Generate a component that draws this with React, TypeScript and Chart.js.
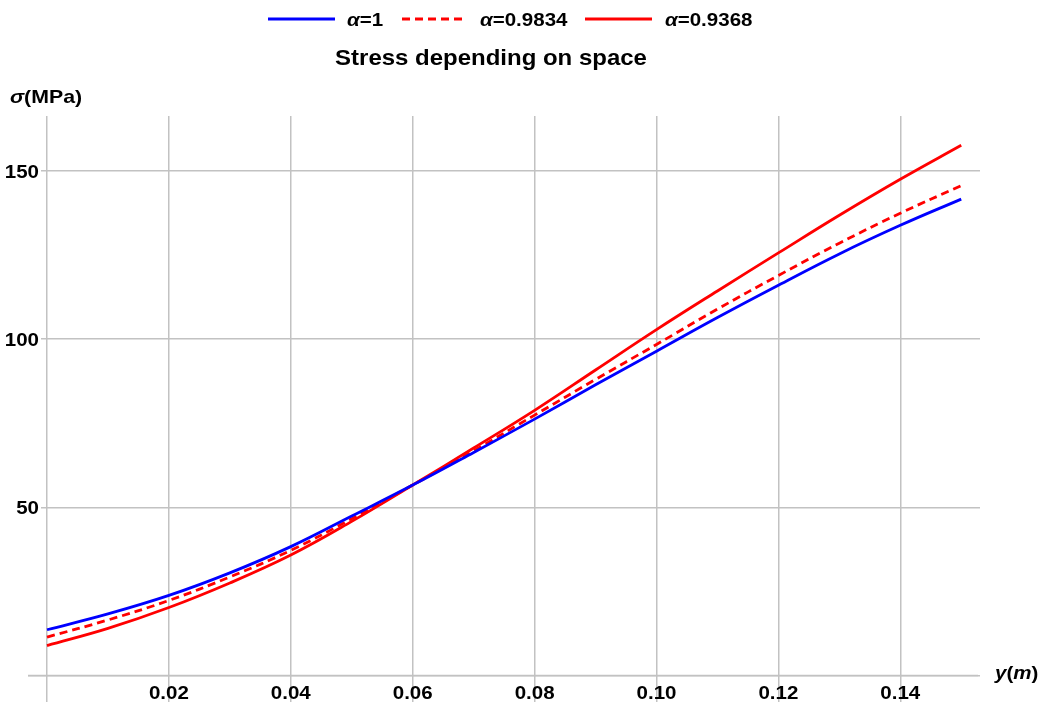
import { useEffect, useRef } from "react";
import { Chart, registerables } from "chart.js";

Chart.register(...registerables);

// ---- data ----
const X_VALUES = [0, 0.01, 0.02, 0.03, 0.04, 0.05, 0.06, 0.07, 0.08, 0.09, 0.1, 0.11, 0.12, 0.13, 0.14, 0.15];
const ALPHA_1 = [13.6, 18.3, 23.8, 30.5, 38.3, 47.4, 56.6, 66.3, 76.2, 86.4, 96.4, 106.4, 116.0, 125.3, 133.8, 141.6];
const ALPHA_09834 = [11.4, 16.5, 22.3, 29.3, 37.2, 46.6, 56.6, 66.8, 77.4, 88.0, 98.4, 108.9, 118.9, 128.5, 137.4, 145.6];
const ALPHA_09368 = [8.9, 14.0, 20.2, 27.5, 35.8, 45.8, 56.6, 67.6, 78.8, 90.8, 102.8, 114.3, 125.6, 136.8, 147.5, 157.6];
const SERIES_ALPHAS = ["1", "0.9834", "0.9368"];
const X_TICKS = [0.02, 0.04, 0.06, 0.08, 0.1, 0.12, 0.14];
const X_TICK_LABELS = ["0.02", "0.04", "0.06", "0.08", "0.10", "0.12", "0.14"];
const Y_TICKS = [50, 100, 150];
const Y_TICK_LABELS = ["50", "100", "150"];
const TITLE = "Stress depending on space";

const FAMILY = '"Liberation Sans", Arial, sans-serif';
const BOLD = (s: number) => `bold ${s}px ${FAMILY}`;
const ITALIC_BOLD = (s: number) => `italic bold ${s}px ${FAMILY}`;
const GRID = "#c2c2c2";
const BLUE = "rgb(0,0,255)";
const RED = "rgb(255,0,0)";
const DASH = [8, 5];

type Run = { text: string; font: string };

function drawRuns(
  ctx: CanvasRenderingContext2D,
  runs: Run[],
  x: number,
  y: number,
  align: "left" | "center" | "right",
  baseline: CanvasTextBaseline,
  sx: number
) {
  ctx.save();
  ctx.textBaseline = baseline;
  ctx.textAlign = "left";
  ctx.fillStyle = "#000";
  const widths = runs.map((r) => {
    ctx.font = r.font;
    return ctx.measureText(r.text).width;
  });
  const total = widths.reduce((a, b) => a + b, 0) * sx;
  const start = align === "left" ? x : align === "center" ? x - total / 2 : x - total;
  ctx.translate(start, y);
  ctx.scale(sx, 1);
  let cx = 0;
  runs.forEach((r, i) => {
    ctx.font = r.font;
    ctx.fillText(r.text, cx, 0);
    cx += widths[i];
  });
  ctx.restore();
}

const decorPlugin = {
  id: "decor",
  beforeDatasetsDraw(chart: any) {
    const ctx: CanvasRenderingContext2D = chart.ctx;
    const ys = chart.scales.y;
    const area = chart.chartArea;
    ctx.save();
    // erase the gridline part that lies under the y labels
    ctx.fillStyle = "#fff";
    Y_TICKS.forEach((v) => {
      const py = ys.getPixelForValue(v);
      ctx.fillRect(area.left, py - 2, 13, 4);
    });
    // horizontal axis
    ctx.strokeStyle = GRID;
    ctx.lineWidth = 1.5;
    const y0 = ys.getPixelForValue(0);
    ctx.beginPath();
    ctx.moveTo(area.left, y0);
    ctx.lineTo(area.right - 2, y0);
    ctx.stroke();
    ctx.restore();
  },
  afterDraw(chart: any) {
    const ctx: CanvasRenderingContext2D = chart.ctx;
    const xs = chart.scales.x;
    const ys = chart.scales.y;
    const sx = 1.08;
    // x tick labels
    X_TICKS.forEach((v, i) => {
      drawRuns(ctx, [{ text: X_TICK_LABELS[i], font: BOLD(19) }], xs.getPixelForValue(v), 699, "center", "alphabetic", sx);
    });
    // y tick labels
    const x0 = xs.getPixelForValue(0);
    Y_TICKS.forEach((v, i) => {
      drawRuns(ctx, [{ text: Y_TICK_LABELS[i], font: BOLD(19) }], x0 - 8, ys.getPixelForValue(v) + 7, "right", "alphabetic", sx);
    });
    // axis labels
    drawRuns(
      ctx,
      [
        { text: "σ", font: ITALIC_BOLD(19) },
        { text: "(MPa)", font: BOLD(19) },
      ],
      10,
      103,
      "left",
      "alphabetic",
      1.12
    );
    drawRuns(
      ctx,
      [
        { text: "y", font: ITALIC_BOLD(19) },
        { text: "(", font: BOLD(19) },
        { text: "m", font: ITALIC_BOLD(19) },
        { text: ")", font: BOLD(19) },
      ],
      995,
      679,
      "left",
      "alphabetic",
      1.08
    );
    // title
    drawRuns(ctx, [{ text: TITLE, font: BOLD(22) }], 491, 65, "center", "alphabetic", 1.09);
    // legend
    const items = [
      { color: BLUE, dash: [] as number[], x1: 268, x2: 335, tx: 347 },
      { color: RED, dash: DASH, x1: 402, x2: 464, tx: 480 },
      { color: RED, dash: [] as number[], x1: 585, x2: 652, tx: 665 },
    ];
    items.forEach((it, i) => {
      ctx.save();
      ctx.strokeStyle = it.color;
      ctx.lineWidth = 2.8;
      ctx.setLineDash(it.dash);
      ctx.beginPath();
      ctx.moveTo(it.x1, 19);
      ctx.lineTo(it.x2, 19);
      ctx.stroke();
      ctx.restore();
      drawRuns(
        ctx,
        [
          { text: "α", font: ITALIC_BOLD(19) },
          { text: "=" + SERIES_ALPHAS[i], font: BOLD(19) },
        ],
        it.tx,
        26,
        "left",
        "alphabetic",
        1.08
      );
    });
  },
};

export default function App() {
  const ref = useRef<HTMLCanvasElement | null>(null);

  useEffect(() => {
    if (!ref.current) return;
    const mk = (ys: number[]) => X_VALUES.map((x, i) => ({ x, y: ys[i] }));
    const common = { borderWidth: 2.8, pointRadius: 0, tension: 0.4, fill: false };
    const chart = new Chart(ref.current, {
      type: "line",
      data: {
        datasets: [
          { label: "α=" + SERIES_ALPHAS[0], data: mk(ALPHA_1), borderColor: BLUE, ...common },
          { label: "α=" + SERIES_ALPHAS[1], data: mk(ALPHA_09834), borderColor: RED, borderDash: DASH, ...common },
          { label: "α=" + SERIES_ALPHAS[2], data: mk(ALPHA_09368), borderColor: RED, ...common },
        ],
      },
      options: {
        animation: false,
        responsive: true,
        maintainAspectRatio: false,
        layout: { padding: { left: 28, right: 65, top: 116, bottom: 0 } },
        plugins: {
          legend: { display: false },
          title: { display: false },
          tooltip: { enabled: false },
        },
        scales: {
          x: {
            type: "linear",
            min: -0.00312,
            max: 0.15308,
            afterBuildTicks: (scale: any) => {
              scale.ticks = [0, ...X_TICKS].map((v) => ({ value: v }));
            },
            ticks: { display: false },
            grid: { color: GRID, lineWidth: 1.5, drawTicks: false },
            border: { display: false },
          },
          y: {
            type: "linear",
            min: -7.88,
            max: 166.3,
            afterBuildTicks: (scale: any) => {
              scale.ticks = [0, ...Y_TICKS].map((v) => ({ value: v }));
            },
            ticks: { display: false },
            grid: { color: GRID, lineWidth: 1.5, drawTicks: false },
            border: { display: false },
          },
        },
      },
      plugins: [decorPlugin],
    });
    return () => chart.destroy();
  }, []);

  return (
    <div style={{ position: "absolute", left: 0, top: 0, width: 1045, height: 702, background: "#fff" }}>
      <canvas ref={ref} />
    </div>
  );
}
